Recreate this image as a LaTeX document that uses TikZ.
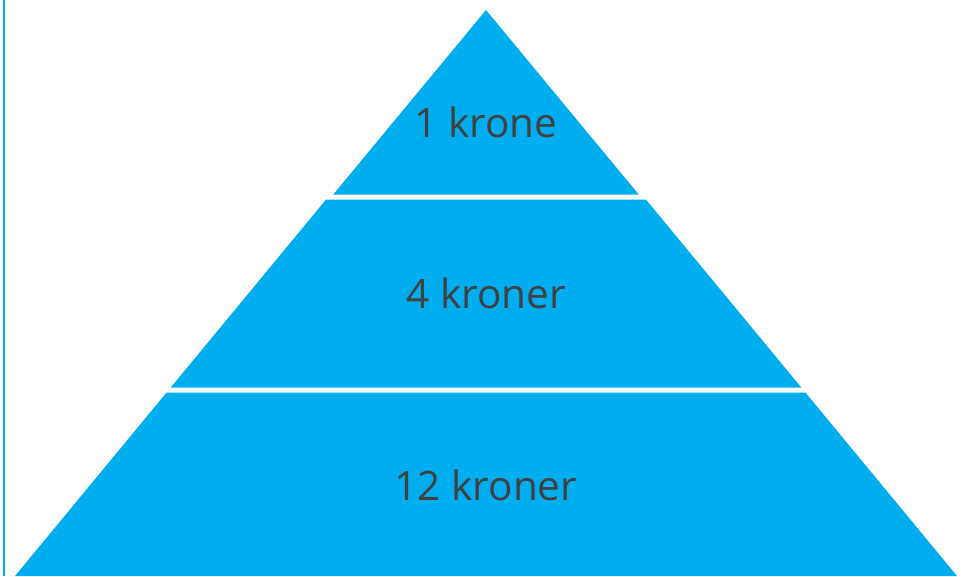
\documentclass[tikz,border=0pt]{standalone}
\usepackage{fontspec}
\setmainfont{Open Sans}
\definecolor{pyr}{HTML}{00AEEF}
\definecolor{txt}{HTML}{404040}
\begin{document}
\begin{tikzpicture}[x=1pt,y=-1pt,
  band/.style={fill=pyr,draw=none},
  lbl/.style={text=txt,font=\fontsize{40.5}{44}\selectfont,inner sep=0pt,anchor=center}]
\useasboundingbox (0,0) rectangle (965,576);
\draw[pyr,line width=2.5pt] (4,0) -- (4,576);
% top band
\fill[band] (486,10) -- (638.7,194.5) -- (333.3,194.5) -- cycle;
% middle band
\fill[band] (326.1,199.5) -- (645.9,199.5) -- (801.3,387.5) -- (170.7,387.5) -- cycle;
% bottom band
\fill[band] (166.6,392.5) -- (805.4,392.5) -- (957,576) -- (15,576) -- cycle;
\node[lbl] (t1) at (486,122) {1 krone};
\node[lbl] (t2) at (486,293) {4 kroner};
\node[lbl] (t3) at (486,485) {12 kroner};
\end{tikzpicture}
\end{document}
